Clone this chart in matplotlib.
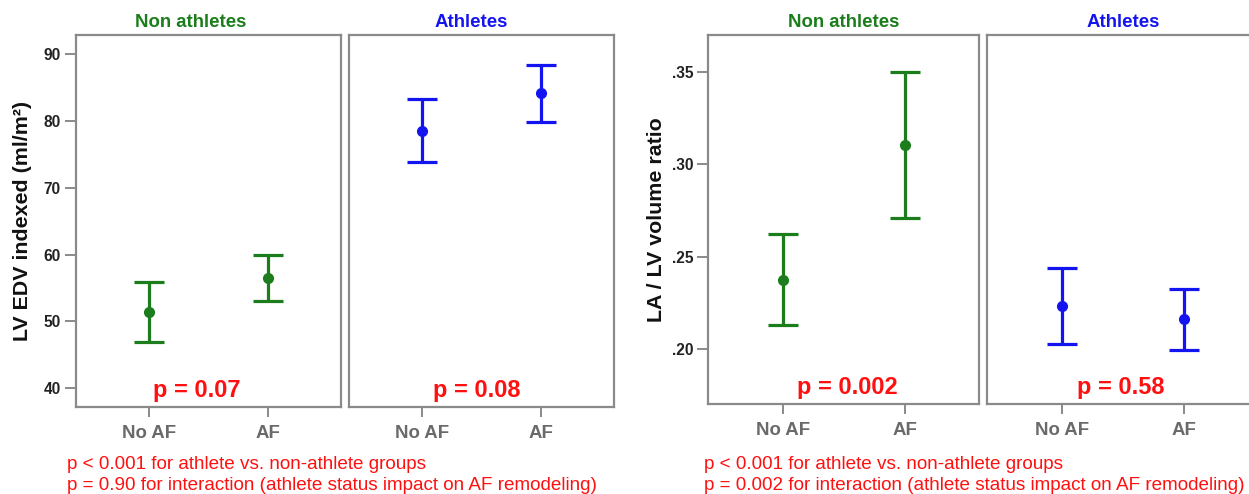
import matplotlib.pyplot as plt
from matplotlib.ticker import FuncFormatter

plt.rcParams['font.family'] = ['Liberation Sans', 'DejaVu Sans']

groups = ['No AF', 'AF']

# LV EDV indexed (ml/m2): mean and 95% CI
lvedv_non_mean = [51.4, 56.5]
lvedv_non_lo = [46.9, 53.1]
lvedv_non_hi = [55.9, 59.9]
lvedv_ath_mean = [78.5, 84.1]
lvedv_ath_lo = [73.8, 79.9]
lvedv_ath_hi = [83.3, 88.4]

# LA / LV volume ratio: mean and 95% CI
ratio_non_mean = [0.2374, 0.3104]
ratio_non_lo = [0.2132, 0.2711]
ratio_non_hi = [0.2621, 0.3500]
ratio_ath_mean = [0.2234, 0.2162]
ratio_ath_lo = [0.2030, 0.1996]
ratio_ath_hi = [0.2441, 0.2325]

lvedv_pvals = ['p = 0.07', 'p = 0.08']
ratio_pvals = ['p = 0.002', 'p = 0.58']
lvedv_notes = ['p < 0.001 for athlete vs. non-athlete groups',
               'p = 0.90 for interaction (athlete status impact on AF remodeling)']
ratio_notes = ['p < 0.001 for athlete vs. non-athlete groups',
               'p = 0.002 for interaction (athlete status impact on AF remodeling)']

GREEN = '#1b7d1b'
BLUE = '#1414f0'
RED = '#ff1010'
FRAME = '#8a8a8a'

fig = plt.figure(figsize=(12.49, 4.94), dpi=100)


def panel(ax, mean, lo, hi, color, title, title_x, ptext, p_x):
    xs = range(len(groups))
    err = [[m - l for m, l in zip(mean, lo)], [h - m for m, h in zip(mean, hi)]]
    ax.errorbar(xs, mean, yerr=err, fmt='o', color=color, ecolor=color,
                elinewidth=2.3, capsize=10.5, capthick=2.3, markersize=7)
    ax.set_xlim(-0.61, 1.61)
    ax.set_xticks(list(xs))
    ax.set_xticklabels(groups, fontsize=13.4, fontweight='bold', color='#6a6a6a')
    ax.tick_params(axis='x', length=7, width=1.4, color=FRAME, pad=6)
    for s in ax.spines.values():
        s.set_color(FRAME)
        s.set_linewidth(1.6)
    ax.text(title_x, 1.022, title, transform=ax.transAxes, ha='center', va='baseline',
            fontsize=13.4, fontweight='bold', color=color)
    # p value for AF vs no AF, sitting just above the bottom frame
    ax.text(p_x, 0.027, ptext, transform=ax.get_xaxis_transform(),
            ha='center', va='baseline', fontsize=17, fontweight='bold', color=RED)


def chart(rect_a, rect_b, ylim, yticks, fmt, ylabel, label_x, data, pvals, p_xs, title_xs, notes, note_x):
    ax1 = fig.add_axes(rect_a)
    ax2 = fig.add_axes(rect_b, sharey=ax1)
    (m1, l1, h1), (m2, l2, h2) = data
    panel(ax1, m1, l1, h1, GREEN, 'Non athletes', title_xs[0], pvals[0], p_xs[0])
    panel(ax2, m2, l2, h2, BLUE, 'Athletes', title_xs[1], pvals[1], p_xs[1])
    ax1.set_ylim(*ylim)
    ax1.set_yticks(yticks)
    ax1.yaxis.set_major_formatter(FuncFormatter(fmt))
    ax1.tick_params(axis='y', length=8, width=1.4, color=FRAME, pad=3,
                    labelsize=11.2, labelcolor='#222222')
    for t in ax1.get_yticklabels():
        t.set_fontweight('bold')
    ax2.tick_params(axis='y', left=False, labelleft=False)
    fig.text(label_x, rect_a[1] + rect_a[3] / 2, ylabel, rotation=90, ha='center', va='center',
             fontsize=15.4, fontweight='bold', color='#111111')
    fig.text(note_x, 0.0506, notes[0], ha='left', va='baseline', fontsize=13.6, color=RED)
    fig.text(note_x, 0.0075, notes[1], ha='left', va='baseline', fontsize=13.6, color=RED)


chart([0.0608, 0.1755, 0.2119, 0.7536], [0.2792, 0.1755, 0.2124, 0.7536],
      (37.16, 92.84), [40, 50, 60, 70, 80, 90], lambda v, pos: f'{v:.0f}',
      'LV EDV indexed (ml/m\u00b2)', 23 / 1249,
      [(lvedv_non_mean, lvedv_non_lo, lvedv_non_hi), (lvedv_ath_mean, lvedv_ath_lo, lvedv_ath_hi)],
      lvedv_pvals, [0.40, 0.46], [0.434, 0.463], lvedv_notes, 66.7 / 1249)

chart([0.5671, 0.1822, 0.2170, 0.7470], [0.7905, 0.1822, 0.2170, 0.7470],
      (0.1704, 0.3698), [0.20, 0.25, 0.30, 0.35], lambda v, pos: f'{v:.2f}'.lstrip('0'),
      'LA / LV volume ratio', 656 / 1249,
      [(ratio_non_mean, ratio_non_lo, ratio_non_hi), (ratio_ath_mean, ratio_ath_lo, ratio_ath_hi)],
      ratio_pvals, [0.53, 0.48], [0.5, 0.5], ratio_notes, 704 / 1249)

fig.savefig('out.png', dpi=100)
